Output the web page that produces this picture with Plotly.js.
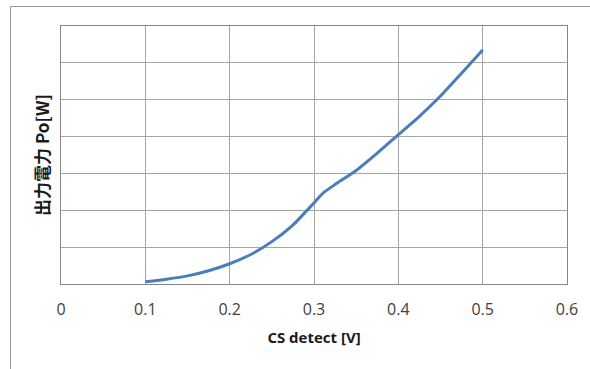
<!DOCTYPE html>
<html>
<head>
<meta charset="utf-8">
<script src="https://cdn.plot.ly/plotly-3.0.1.min.js"></script>
<style>html,body{margin:0;padding:0;background:#fff;}#chart{width:590px;height:369px;}</style>
</head>
<body>
<div id="chart"></div>
<script>
const csDetect = [0.10, 0.125, 0.15, 0.175, 0.20, 0.225, 0.25, 0.275, 0.30, 0.311, 0.325, 0.35, 0.375, 0.40, 0.425, 0.45, 0.475, 0.50];
const outputPower = [0.06, 0.13, 0.22, 0.36, 0.55, 0.80, 1.15, 1.60, 2.20, 2.47, 2.70, 3.08, 3.55, 4.05, 4.55, 5.10, 5.72, 6.35];
const xTickVals = [0, 0.1, 0.2, 0.3, 0.4, 0.5, 0.6];
const xTickText = ['0', '0.1', '0.2', '0.3', '0.4', '0.5', '0.6'];

const trace = {
  x: csDetect, y: outputPower, type: 'scatter', mode: 'lines',
  line: {color: '#4a7ebb', width: 3, shape: 'spline', smoothing: 0.6},
  hoverinfo: 'skip'
};
const W = 590, H = 369, L = 61, R = 23, T = 26, B = 85;
const pw = W - L - R, ph = H - T - B;
const px = p => (p - L) / pw;
const py = p => (H - B - p) / ph;
const layout = {
  width: W, height: H,
  margin: {l: L, r: R, t: T, b: B},
  paper_bgcolor: '#ffffff', plot_bgcolor: '#ffffff',
  showlegend: false,
  font: {family: 'Open Sans, sans-serif', color: '#404040'},
  xaxis: {
    range: [0, 0.6], tickvals: xTickVals, ticktext: xTickText,
    showgrid: true, gridcolor: '#a6a6a6', gridwidth: 1,
    zeroline: false, showline: true, linecolor: '#868686', linewidth: 1, mirror: true,
    ticks: '', ticklabelstandoff: 11,
    tickfont: {size: 16, color: '#404040', family: 'Open Sans, sans-serif'},
    title: {text: 'CS detect [V]', font: {size: 15, color: '#1a1a1a', family: 'Open Sans, sans-serif', weight: 'bold'}, standoff: 13}
  },
  yaxis: {
    range: [0, 7], dtick: 1, showticklabels: false,
    showgrid: true, gridcolor: '#a6a6a6', gridwidth: 1,
    zeroline: false, showline: true, linecolor: '#868686', linewidth: 1, mirror: true,
    ticks: '',
    title: {text: '出力電力 Po[W]', font: {size: 17, color: '#1a1a1a', family: 'Noto Sans CJK JP, sans-serif', weight: 'bold'}, standoff: 6}
  },
  shapes: [
    {type: 'line', xref: 'paper', yref: 'paper', x0: px(10.5), x1: px(590), y0: py(6.5), y1: py(6.5), line: {color: '#9a9a9a', width: 1}},
    {type: 'line', xref: 'paper', yref: 'paper', x0: px(10.5), x1: px(10.5), y0: py(6.5), y1: py(369), line: {color: '#9a9a9a', width: 1}}
  ]
};
Plotly.newPlot('chart', [trace], layout, {displayModeBar: false, staticPlot: true});
</script>
</body>
</html>
